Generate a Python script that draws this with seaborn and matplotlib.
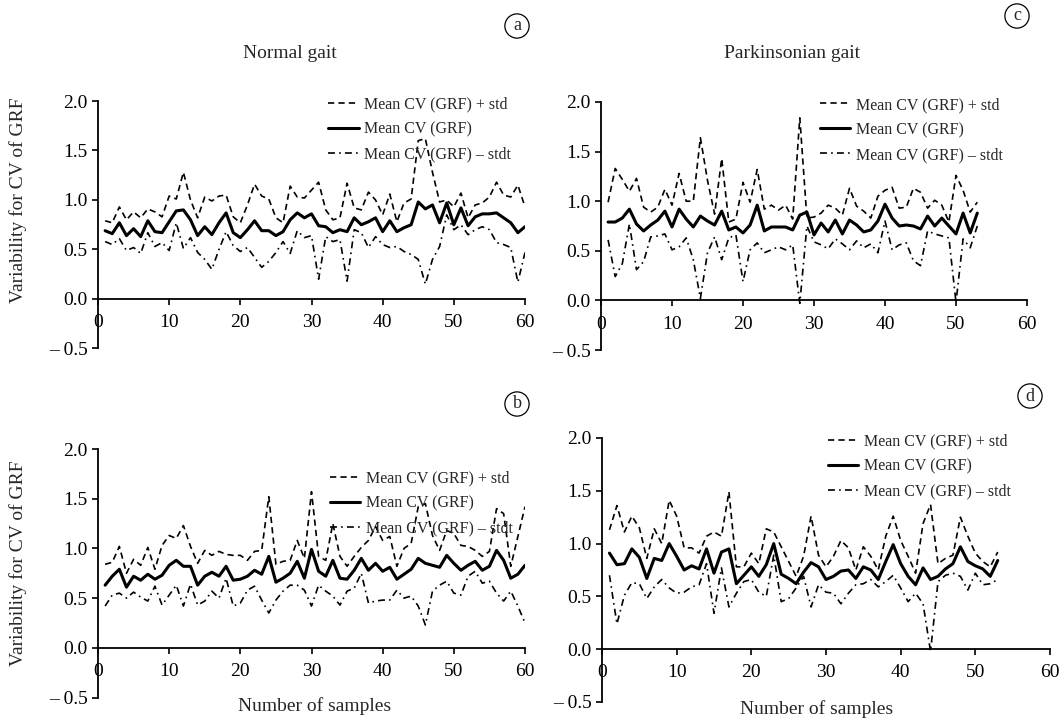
import numpy as np
import pandas as pd
import matplotlib
matplotlib.use("Agg")
import matplotlib.pyplot as plt
import seaborn as sns

# ---- data ----
normal_a_upper = [0.79, 0.77, 0.93, 0.80, 0.88, 0.82, 0.91, 0.88, 0.83, 1.04,
                  1.01, 1.28, 1.00, 0.82, 1.03, 0.99, 1.04, 1.05, 0.83, 0.77,
                  0.95, 1.16, 1.04, 1.01, 0.82, 0.77, 1.14, 1.03, 1.02, 1.10,
                  1.18, 0.90, 0.80, 0.82, 1.17, 0.92, 0.90, 1.08, 1.00, 0.85,
                  1.06, 0.78, 0.97, 1.01, 1.60, 1.62, 1.28, 0.98, 1.00, 0.93,
                  1.07, 0.82, 0.95, 0.97, 1.03, 1.18, 1.05, 1.03, 1.15, 0.93]
normal_a_mean = [0.69, 0.66, 0.77, 0.64, 0.71, 0.63, 0.79, 0.68, 0.67, 0.78,
                 0.89, 0.90, 0.80, 0.64, 0.73, 0.65, 0.77, 0.87, 0.67, 0.62,
                 0.70, 0.79, 0.69, 0.69, 0.64, 0.68, 0.80, 0.87, 0.82, 0.86,
                 0.74, 0.73, 0.67, 0.70, 0.68, 0.82, 0.75, 0.78, 0.82, 0.68,
                 0.79, 0.68, 0.72, 0.75, 0.98, 0.91, 0.95, 0.77, 0.97, 0.75,
                 0.92, 0.74, 0.83, 0.86, 0.86, 0.87, 0.82, 0.77, 0.67, 0.73]
normal_a_lower = [0.58, 0.55, 0.61, 0.49, 0.52, 0.46, 0.67, 0.53, 0.57, 0.49,
                  0.77, 0.51, 0.62, 0.47, 0.40, 0.30, 0.50, 0.68, 0.54, 0.48,
                  0.52, 0.42, 0.32, 0.38, 0.47, 0.58, 0.46, 0.69, 0.62, 0.64,
                  0.20, 0.63, 0.58, 0.60, 0.18, 0.70, 0.67, 0.52, 0.63, 0.55,
                  0.52, 0.53, 0.48, 0.45, 0.40, 0.15, 0.40, 0.53, 0.85, 0.70,
                  0.75, 0.65, 0.70, 0.73, 0.70, 0.57, 0.55, 0.52, 0.17, 0.47]

normal_b_upper = [0.84, 0.86, 1.02, 0.75, 0.89, 0.83, 1.01, 0.79, 1.03, 1.13,
                  1.10, 1.23, 1.02, 0.85, 0.98, 0.93, 0.97, 0.94, 0.93, 0.93,
                  0.88, 0.97, 0.98, 1.52, 0.84, 0.87, 0.88, 1.08, 0.90, 1.57,
                  0.92, 0.88, 1.25, 0.92, 0.82, 0.92, 1.01, 1.08, 1.22, 1.08,
                  1.12, 0.82, 1.00, 1.05, 1.42, 1.45, 1.13, 0.98, 1.18, 1.15,
                  1.03, 1.02, 0.98, 0.92, 0.97, 1.40, 1.35, 0.82, 1.12, 1.42]
normal_b_mean = [0.63, 0.72, 0.79, 0.61, 0.72, 0.68, 0.74, 0.69, 0.73, 0.83,
                 0.88, 0.82, 0.82, 0.63, 0.72, 0.76, 0.72, 0.82, 0.68, 0.69,
                 0.72, 0.78, 0.74, 0.92, 0.66, 0.70, 0.75, 0.87, 0.70, 0.99,
                 0.77, 0.72, 0.88, 0.70, 0.69, 0.78, 0.90, 0.78, 0.85, 0.77,
                 0.81, 0.69, 0.74, 0.79, 0.90, 0.85, 0.83, 0.81, 0.93, 0.85,
                 0.78, 0.83, 0.87, 0.78, 0.82, 0.98, 0.88, 0.70, 0.74, 0.83]
normal_b_lower = [0.42, 0.53, 0.55, 0.50, 0.56, 0.51, 0.47, 0.62, 0.43, 0.53,
                  0.63, 0.42, 0.64, 0.43, 0.47, 0.57, 0.50, 0.70, 0.42, 0.45,
                  0.58, 0.62, 0.48, 0.35, 0.48, 0.57, 0.63, 0.63, 0.58, 0.42,
                  0.63, 0.57, 0.52, 0.43, 0.57, 0.60, 0.75, 0.45, 0.47, 0.48,
                  0.48, 0.58, 0.50, 0.52, 0.42, 0.23, 0.57, 0.63, 0.67, 0.55,
                  0.53, 0.72, 0.77, 0.65, 0.67, 0.55, 0.47, 0.57, 0.42, 0.25]

park_c_upper = [0.99, 1.33, 1.22, 1.10, 1.23, 0.94, 0.89, 0.94, 1.12, 0.96,
                1.28, 1.00, 1.00, 1.64, 1.21, 0.87, 1.43, 0.79, 0.82, 1.19,
                0.99, 1.32, 0.92, 0.96, 0.91, 0.96, 0.82, 1.84, 0.83, 0.84,
                0.88, 0.96, 0.93, 0.86, 1.13, 0.95, 0.90, 0.83, 1.05, 1.11,
                1.14, 0.93, 0.94, 1.13, 1.09, 0.93, 1.01, 0.96, 0.79, 1.26,
                1.11, 0.89, 0.99]
park_c_mean = [0.79, 0.79, 0.83, 0.92, 0.77, 0.70, 0.76, 0.81, 0.90, 0.74,
               0.92, 0.82, 0.74, 0.85, 0.80, 0.76, 0.90, 0.71, 0.74, 0.68,
               0.76, 0.96, 0.70, 0.74, 0.74, 0.74, 0.71, 0.86, 0.89, 0.66,
               0.78, 0.69, 0.81, 0.67, 0.81, 0.76, 0.69, 0.71, 0.80, 0.97,
               0.83, 0.75, 0.76, 0.75, 0.72, 0.85, 0.75, 0.83, 0.75, 0.67,
               0.88, 0.68, 0.88]
park_c_lower = [0.61, 0.24, 0.37, 0.77, 0.31, 0.39, 0.64, 0.65, 0.67, 0.51,
                0.54, 0.63, 0.41, 0.02, 0.48, 0.64, 0.41, 0.63, 0.66, 0.19,
                0.51, 0.58, 0.48, 0.51, 0.54, 0.51, 0.56, -0.03, 0.75, 0.59,
                0.56, 0.52, 0.62, 0.57, 0.51, 0.60, 0.53, 0.57, 0.48, 0.80,
                0.51, 0.56, 0.58, 0.40, 0.35, 0.70, 0.67, 0.65, 0.63, -0.02,
                0.62, 0.53, 0.75]

park_d_upper = [1.13, 1.36, 1.11, 1.26, 1.15, 0.86, 1.14, 1.00, 1.41, 1.26,
                0.96, 0.96, 0.91, 1.07, 1.11, 1.07, 1.49, 0.78, 0.78, 0.91,
                0.81, 1.14, 1.11, 0.97, 0.83, 0.69, 0.88, 1.26, 0.89, 0.78,
                0.88, 1.03, 0.96, 0.75, 0.97, 0.88, 0.75, 1.07, 1.26, 1.03,
                0.88, 0.72, 1.19, 1.37, 0.81, 0.86, 0.89, 1.25, 1.07, 0.91,
                0.83, 0.78, 0.92]
park_d_mean = [0.91, 0.80, 0.81, 0.95, 0.87, 0.67, 0.86, 0.84, 1.00, 0.88,
               0.75, 0.79, 0.76, 0.95, 0.72, 0.92, 0.95, 0.62, 0.70, 0.78,
               0.69, 0.80, 1.00, 0.71, 0.67, 0.62, 0.73, 0.82, 0.78, 0.66,
               0.69, 0.74, 0.75, 0.67, 0.78, 0.75, 0.66, 0.83, 0.99, 0.81,
               0.69, 0.61, 0.77, 0.66, 0.69, 0.76, 0.81, 0.97, 0.83, 0.79,
               0.76, 0.69, 0.84]
park_d_lower = [0.70, 0.24, 0.51, 0.63, 0.62, 0.48, 0.59, 0.66, 0.58, 0.53,
                0.54, 0.59, 0.61, 0.81, 0.34, 0.77, 0.40, 0.53, 0.64, 0.66,
                0.54, 0.50, 0.89, 0.45, 0.48, 0.58, 0.69, 0.40, 0.61, 0.54,
                0.53, 0.43, 0.53, 0.61, 0.62, 0.66, 0.59, 0.64, 0.70, 0.58,
                0.45, 0.53, 0.43, -0.02, 0.64, 0.70, 0.72, 0.69, 0.56, 0.72,
                0.61, 0.62, 0.66]

labels = ["Mean CV (GRF) + std", "Mean CV (GRF)", "Mean CV (GRF) \u2013 stdt"]
y_ticks = [-0.5, 0.0, 0.5, 1.0, 1.5, 2.0]
y_tick_labels = ["\u2013 0.5", "0.0", "0.5", "1.0", "1.5", "2.0"]
x_ticks = [0, 10, 20, 30, 40, 50, 60]

sns.set_style("white")
plt.rcParams['font.family'] = ['Liberation Serif', 'DejaVu Serif']
plt.rcParams['lines.scale_dashes'] = False

W, H = 1062, 720
fig = plt.figure(figsize=(W / 100, H / 100), dpi=100)


def px_axes(x0, x1, y_top, y_bot):
    return fig.add_axes([x0 / W, 1 - y_bot / H, (x1 - x0) / W, (y_bot - y_top) / H])


def draw_panel(ax, upper, mean, lower, leg_xy):
    n = len(mean)
    df = pd.DataFrame({"sample": np.arange(1, n + 1), "upper": upper,
                       "mean": mean, "lower": lower})
    sns.lineplot(data=df, x="sample", y="upper", ax=ax, color="black", lw=1.2,
                 linestyle=(0, (4.5, 3)), label=labels[0])
    sns.lineplot(data=df, x="sample", y="mean", ax=ax, color="black", lw=2.2,
                 label=labels[1])
    sns.lineplot(data=df, x="sample", y="lower", ax=ax, color="black", lw=1.2,
                 linestyle=(0, (5, 3, 1.2, 3)), label=labels[2])
    ax.set_xlim(0, 60)
    ax.set_ylim(-0.5, 2.0)
    ax.set_xticks(x_ticks)
    ax.set_yticks(y_ticks)
    ax.set_yticklabels(y_tick_labels)
    ax.set_xlabel("")
    ax.set_ylabel("")
    for s in ["top", "right"]:
        ax.spines[s].set_visible(False)
    ax.spines["bottom"].set_position(("data", 0))
    ax.spines["left"].set_linewidth(1.3)
    ax.spines["bottom"].set_linewidth(1.3)
    ax.spines["left"].set_color("black")
    ax.spines["bottom"].set_color("black")
    ax.tick_params(axis="both", direction="out", length=4, width=1.2,
                   labelsize=14, colors="black", bottom=True, left=True)
    ax.tick_params(axis="x", pad=7)
    ax.patch.set_alpha(0)
    ax.legend(loc="upper left", bbox_to_anchor=leg_xy, frameon=False,
              fontsize=11.5, handlelength=1.9, handletextpad=0.35,
              labelspacing=0.56, borderpad=0, borderaxespad=0)


ax_a = px_axes(98, 525, 101, 348.5)
ax_c = px_axes(601, 1027, 102, 350)
ax_b = px_axes(98, 525, 449, 697.5)
ax_d = px_axes(602, 1050, 438, 702)

draw_panel(ax_a, normal_a_upper, normal_a_mean, normal_a_lower, (0.539, 1.017))
draw_panel(ax_c, park_c_upper, park_c_mean, park_c_lower, (0.514, 1.020))
draw_panel(ax_b, normal_b_upper, normal_b_mean, normal_b_lower, (0.543, 0.913))
draw_panel(ax_d, park_d_upper, park_d_mean, park_d_lower, (0.504, 1.017))

# titles, axis labels
fig.text(290 / W, 1 - 53 / H, "Normal gait", ha="center", va="center", fontsize=14)
fig.text(792 / W, 1 - 53 / H, "Parkinsonian gait", ha="center", va="center", fontsize=14)
fig.text(18 / W, 1 - 200 / H, "Variability for CV of GRF", rotation=90,
         ha="center", va="center", fontsize=14)
fig.text(18 / W, 1 - 563 / H, "Variability for CV of GRF", rotation=90,
         ha="center", va="center", fontsize=14)
fig.text(315 / W, 1 - 706 / H, "Number of samples", ha="center", va="center", fontsize=14)
fig.text(817 / W, 1 - 709 / H, "Number of samples", ha="center", va="center", fontsize=14)

# circled panel letters
for letter, cx, cy in [("a", 517, 26), ("c", 1017, 16), ("b", 517, 404), ("d", 1030, 396)]:
    fig.text(cx / W, 1 - cy / H, letter, ha="center", va="center", fontsize=13,
             bbox=dict(boxstyle="circle,pad=0.2", fc="white", ec="black", lw=0.9))

fig.savefig("out.png", dpi=100)
